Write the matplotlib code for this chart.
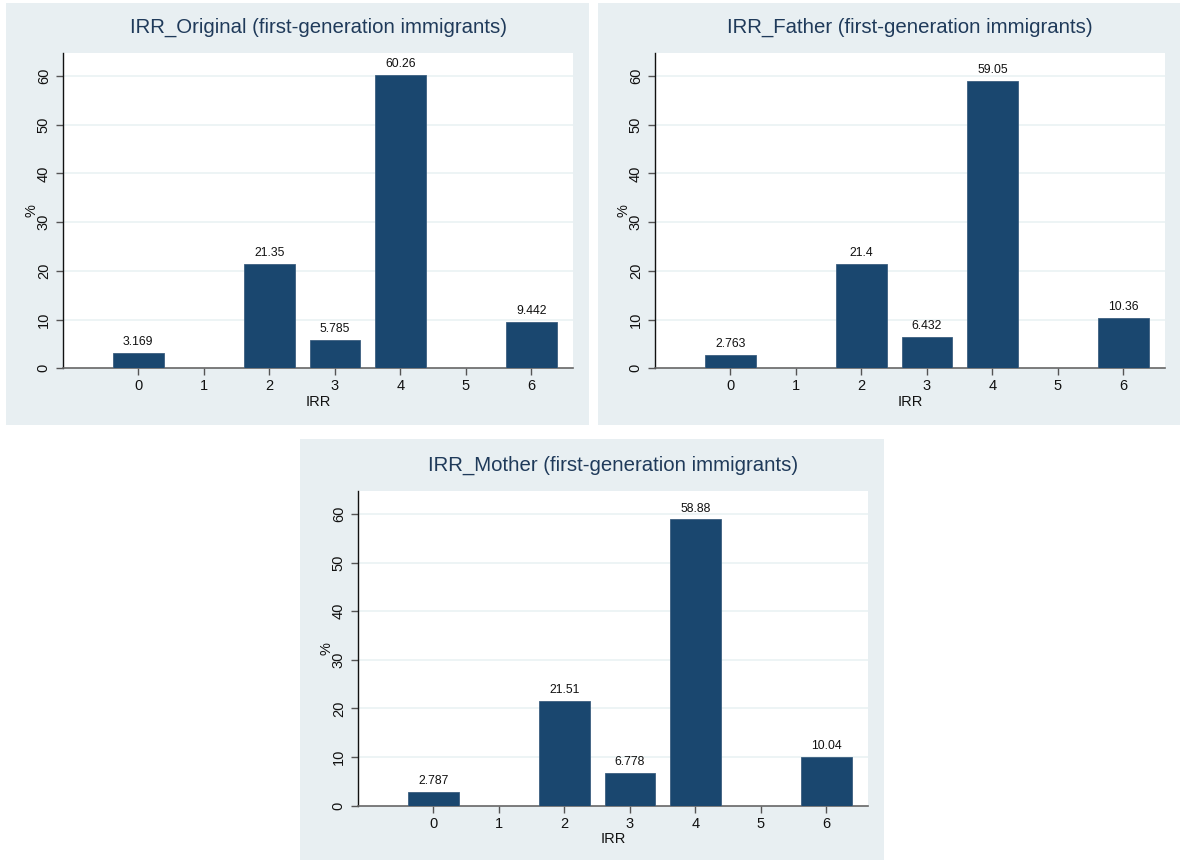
import matplotlib
matplotlib.use("Agg")
import matplotlib.pyplot as plt
from matplotlib.patches import Rectangle

plt.rcParams["font.family"] = ["Liberation Sans", "DejaVu Sans"]

# ----- data -----
irr_levels = [0, 1, 2, 3, 4, 5, 6]
pct_original = [3.169, 0, 21.35, 5.785, 60.26, 0, 9.442]
pct_father = [2.763, 0, 21.4, 6.432, 59.05, 0, 10.36]
pct_mother = [2.787, 0, 21.51, 6.778, 58.88, 0, 10.04]
titles = [
    "IRR_Original (first-generation immigrants)",
    "IRR_Father (first-generation immigrants)",
    "IRR_Mother (first-generation immigrants)",
]

W, H = 1180, 861
BG = "#e8eff2"
BAR = "#1a476f"
TITLE_C = "#1f3a5a"
GRID = "#eaf2f3"


def _rect(l, t, r, b):
    return [l / W, 1 - b / H, (r - l) / W, (b - t) / H]


fig = plt.figure(figsize=(W / 100, H / 100), dpi=100)
fig.patch.set_facecolor("white")

# panel background (left, top, right, bottom) and plot region in pixels
panels = [
    ((6, 3, 589, 425), (63.3, 52.7, 573.3, 368.3), pct_original),
    ((598, 3, 1180, 425), (655.3, 52.7, 1165.3, 368.3), pct_father),
    ((300, 439, 884, 860), (358.3, 490.7, 868.3, 805.7), pct_mother),
]

for (bg, pr, vals), title in zip(panels, titles):
    l, t, r, b = bg
    fig.patches.append(Rectangle((l / W, 1 - b / H), (r - l) / W, (b - t) / H,
                                 transform=fig.transFigure, facecolor=BG,
                                 edgecolor="none", zorder=-5))
    ax = fig.add_axes(_rect(*pr))
    ax.set_facecolor("white")
    ax.bar(irr_levels, vals, width=0.77, color=BAR, edgecolor="#3c5f80",
           linewidth=0.6, zorder=3)
    for x, v in zip(irr_levels, vals):
        if v > 0:
            ax.text(x, v + 1.0, f"{v:g}", ha="center", va="bottom",
                    fontsize=8.8, color="#111111", zorder=4)
    ax.set_xlim(-1.145, 6.64)
    ax.set_ylim(0, 64.8)
    ax.set_xticks(irr_levels)
    ax.set_yticks([0, 10, 20, 30, 40, 50, 60])
    ax.set_yticklabels(["0", "10", "20", "30", "40", "50", "60"],
                       rotation=90, va="center")
    for y in [10, 20, 30, 40, 50, 60]:
        ax.axhline(y, color=GRID, linewidth=1.2, zorder=1)
    ax.tick_params(axis="both", direction="out", length=5, width=1,
                   colors="#555555", labelcolor="#111111", labelsize=10.5)
    ax.tick_params(axis="y", pad=4)
    ax.tick_params(axis="x", pad=3)
    for s in ["top", "right"]:
        ax.spines[s].set_visible(False)
    ax.spines["left"].set_color("#111111")
    ax.spines["left"].set_linewidth(1)
    ax.spines["bottom"].set_color("#666666")
    ax.spines["bottom"].set_linewidth(1.2)
    ax.set_xlabel("IRR", fontsize=10.5, color="#111111", labelpad=1)
    ax.set_ylabel("%", fontsize=10.5, color="#111111", labelpad=-1)
    pl, pt, prr, pb = pr
    fig.text(((pl + prr) / 2) / W, 1 - (pt - 25) / H, title,
             ha="center", va="center", fontsize=14.7, color=TITLE_C)

fig.savefig("out.png", dpi=100)
